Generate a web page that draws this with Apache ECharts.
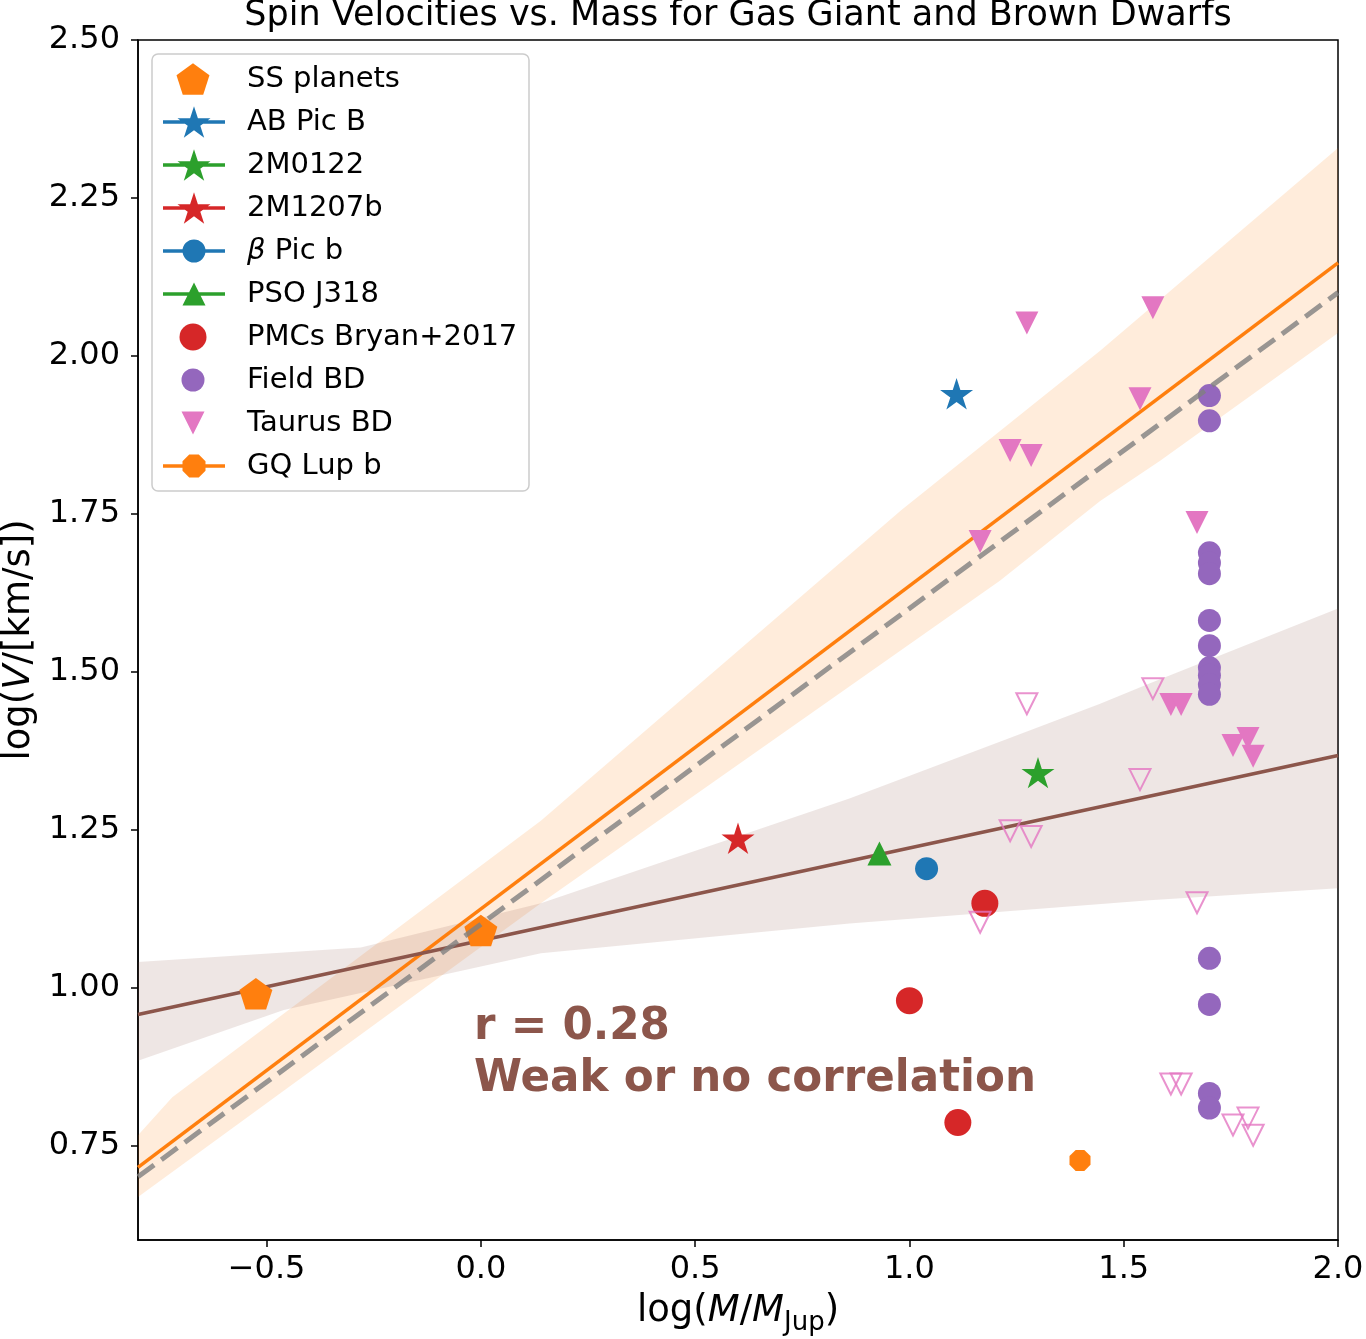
<!DOCTYPE html>
<html>
<head>
<meta charset="utf-8">
<title>Spin Velocities vs. Mass</title>
<script src="https://cdn.jsdelivr.net/npm/echarts@6/dist/echarts.min.js"></script>
<style>
  html, body { margin: 0; padding: 0; background: #fff; }
  #chart { width: 1366px; height: 1339px; }
</style>
</head>
<body>
<div id="chart"></div>
<script>
// tick labels
const xTicks = [-0.5, 0.0, 0.5, 1.0, 1.5, 2.0]
const yTicks = [0.75, 1.0, 1.25, 1.5, 1.75, 2.0, 2.25, 2.5]

// points: [log(M/MJup), log(V/[km/s])]
const ssPlanets = [[-0.525, 0.99], [0.0, 1.09]]
const abPicB = [[1.11, 1.94]]
const m0122 = [[1.30, 1.34]]
const m1207b = [[0.60, 1.236]]
const betaPic = [[1.04, 1.188]]
const psoJ318 = [[0.93, 1.212]]
const pmcs = [[1.176, 1.133], [1.0, 0.979], [1.113, 0.786]]
const gqLup = [[1.398, 0.726]]

const fieldX = 1.70
const fieldV = [1.937, 1.897, 1.688, 1.672, 1.655, 1.581, 1.541, 1.506, 1.494, 1.479, 1.464, 1.046, 0.973, 0.832, 0.809]

const taurusX = [1.274, 1.568, 1.538, 1.235, 1.284, 1.165, 1.671, 1.610, 1.634, 1.755, 1.790, 1.802]
const taurusV = [2.052, 2.076, 1.932, 1.850, 1.842, 1.706, 1.736, 1.448, 1.448, 1.383, 1.394, 1.366]
const taurusLow = [1.449, 1.473, 1.329, 1.248, 1.239, 1.103, 1.134, 0.847, 0.847, 0.782, 0.793, 0.766]

// fit lines (ends of the plotted range)
const fitX = [-0.8, 2.0]
const orangeFit = [0.715, 2.147]
const brownFit = [0.957, 1.367]
const guideFit = [0.70, 2.10]

// confidence bands
const orangeUpX = [-0.8, -0.72, 0.14, 0.98, 1.445, 2.0]
const orangeUpY = [0.766, 0.826, 1.264, 1.755, 2.008, 2.329]
const orangeLoX = [-0.8, 0.14, 1.211, 1.445, 1.585, 2.0]
const orangeLoY = [0.668, 1.133, 1.644, 1.770, 1.834, 2.036]
const brownUpX = [-0.8, -0.28, 0.14, 0.86, 1.211, 1.445, 1.56, 2.0]
const brownUpY = [1.040, 1.063, 1.133, 1.299, 1.389, 1.449, 1.481, 1.600]
const brownLoX = [-0.8, -0.46, 0.14, 0.86, 1.56, 2.0]
const brownLoY = [0.884, 0.964, 1.054, 1.101, 1.138, 1.157]

const font = 'DejaVu Sans'
const C = {
  blue: '#1f77b4', orange: '#ff7f0e', green: '#2ca02c', red: '#d62728',
  purple: '#9467bd', brown: '#8c564b', pink: '#e377c2'
}

// marker outlines in unit coordinates (clockwise on screen)
const starPts = [[0, -1], [0.2245, -0.309], [0.951, -0.309], [0.3633, 0.118], [0.5878, 0.809],
  [0, 0.382], [-0.5878, 0.809], [-0.3633, 0.118], [-0.951, -0.309], [-0.2245, -0.309]]
const pentPts = [[0, -1], [0.951, -0.309], [0.588, 0.809], [-0.588, 0.809], [-0.951, -0.309]]
const octPts = [[0.924, 0.383], [0.383, 0.924], [-0.383, 0.924], [-0.924, 0.383],
  [-0.924, -0.383], [-0.383, -0.924], [0.383, -0.924], [0.924, -0.383]]
const triUpPts = [[0, -1], [1, 1], [-1, 1]]

function poly(pts, cx, cy, sx, sy) {
  return pts.map((p, i) => (i ? 'L' : 'M') + (cx + p[0] * sx).toFixed(2) + ',' + (cy + p[1] * sy).toFixed(2)).join('') + 'Z'
}

const pentagon = 'path://' + poly(pentPts, 0, 0, 1, 1)
const star = 'path://' + poly(starPts, 0, 0, 1, 1)
const octagon = 'path://' + poly(octPts, 0, 0, 1, 1)
const triDown = 'path://M-1,-1L1,-1L0,1Z'

// legend icon: marker of size w x h centred on a 62px line
function lineIcon(kind, w, h) {
  const W = 62
  const cx = W / 2
  let shape
  if (kind === 'circle') {
    const r = w / 2
    shape = `M${cx - r},${h / 2}A${r},${r} 0 1 1 ${cx + r},${h / 2}A${r},${r} 0 1 1 ${cx - r},${h / 2}Z`
  } else if (kind === 'star') {
    shape = poly(starPts, cx, h / 2 + 0.0955 * h / 1.809, w / 1.902, h / 1.809)
  } else if (kind === 'triangle') {
    shape = poly(triUpPts, cx, h / 2, w / 2, h / 2)
  } else {
    shape = poly(octPts, cx, h / 2, w / 1.848, h / 1.848)
  }
  const y0 = h / 2 - 1.75
  const y1 = h / 2 + 1.75
  return 'path://' + shape + `M0,${y0}L${W},${y0}L${W},${y1}L0,${y1}Z`
}

function pairs(xs, ys) {
  return xs.map((x, i) => [x, ys[i]])
}

function band(upX, upY, loX, loY, fill) {
  return {
    type: 'custom',
    z: 1,
    silent: true,
    data: [[upX[0], upY[0]]],
    renderItem: (params, api) => {
      const top = upX.map((x, i) => api.coord([x, upY[i]]))
      const bottom = loX.map((x, i) => api.coord([x, loY[i]])).reverse()
      return { type: 'polygon', shape: { points: top.concat(bottom) }, style: { fill: fill } }
    }
  }
}

function fit(ys, color, extra) {
  return Object.assign({
    type: 'line',
    z: 2,
    silent: true,
    symbol: 'none',
    data: pairs(fitX, ys),
    lineStyle: { color: color, width: 3.5 }
  }, extra || {})
}

function scatter(name, data, symbol, size, color) {
  return {
    name: name,
    type: 'scatter',
    z: 3,
    data: data,
    symbol: symbol,
    symbolSize: size,
    itemStyle: { color: color, opacity: 1 }
  }
}

const series = [
  band(orangeUpX, orangeUpY, orangeLoX, orangeLoY, 'rgba(255,127,14,0.15)'),
  band(brownUpX, brownUpY, brownLoX, brownLoY, 'rgba(140,86,75,0.15)'),
  fit(orangeFit, C.orange),
  fit(brownFit, C.brown),
  scatter('SS planets', ssPlanets, pentagon, [33, 31.4], C.orange),
  scatter('AB Pic B', abPicB, star, [33, 31.4], C.blue),
  scatter('2M0122', m0122, star, [33, 31.4], C.green),
  scatter('2M1207b', m1207b, star, [33, 31.4], C.red),
  scatter('β Pic b', betaPic, 'circle', 23, C.blue),
  scatter('PSO J318', psoJ318, 'triangle', 24, C.green),
  scatter('PMCs Bryan+2017', pmcs, 'circle', 27, C.red),
  scatter('Field BD', fieldV.map(v => [fieldX, v]), 'circle', 23, C.purple),
  scatter('Taurus BD', pairs(taurusX, taurusV), triDown, 23, C.pink),
  {
    name: 'Taurus BD low',
    type: 'scatter',
    z: 3,
    data: pairs(taurusX, taurusLow),
    symbol: triDown,
    symbolSize: 21,
    itemStyle: { color: 'rgba(0,0,0,0)', borderColor: C.pink, borderWidth: 2 }
  },
  scatter('GQ Lup b', gqLup, octagon, 21, C.orange),
  fit(guideFit, 'rgba(127,127,127,0.8)', { z: 5, lineStyle: { color: 'rgba(127,127,127,0.8)', width: 5, type: [20, 9] } })
]

// legend: one row per entry so every marker keeps its own size
const rowY = [77, 120, 163, 206, 249, 292, 335, 378, 421, 464]
const legendRows = [
  ['SS planets', 33, 31.4, null], ['AB Pic B', 33, 31.4, 'star'], ['2M0122', 33, 31.4, 'star'],
  ['2M1207b', 33, 31.4, 'star'], ['β Pic b', 23, 23, 'circle'], ['PSO J318', 23, 23, 'triangle'],
  ['PMCs Bryan+2017', 27, 27, null], ['Field BD', 23, 23, null], ['Taurus BD', 23, 23, null],
  ['GQ Lup b', 23, 23, 'octagon']
]
const legends = legendRows.map(([name, w, h, kind], i) => {
  const iw = kind ? 62 : w
  const left = kind ? 163 : 193 - w / 2
  const leg = {
    data: [name],
    selectedMode: false,
    orient: 'vertical',
    padding: 0,
    left: left,
    top: rowY[i] - Math.max(h, 34) / 2 + 2,
    itemWidth: iw,
    itemHeight: h,
    formatter: name === 'β Pic b' ? '{i|β} Pic b' : name,
    textStyle: {
      fontFamily: font, fontSize: 29, lineHeight: 34, color: '#000',
      padding: [0, 0, 0, 247 - (left + iw + 5)],
      rich: { i: { fontFamily: font, fontSize: 29, fontStyle: 'italic', color: '#000' } }
    }
  }
  if (kind) leg.icon = lineIcon(kind, w, h)
  return leg
})

const option = {
  animation: false,
  backgroundColor: '#fff',
  title: {
    text: 'Spin Velocities vs. Mass for Gas Giant and Brown Dwarfs',
    left: 738,
    textAlign: 'center',
    top: -2,
    padding: 0,
    textStyle: { fontFamily: font, fontSize: 35, fontWeight: 'normal', color: '#000' }
  },
  legend: legends,
  grid: {
    left: 138, right: 28, top: 40, bottom: 99,
    show: true, borderColor: '#000', borderWidth: 1.5,
    outerBoundsMode: 'none'
  },
  xAxis: {
    type: 'value',
    min: -0.8,
    max: 2.0,
    name: '{n|log(}{i|M}{n|/}{i|M}{s|Jup}{n|)}',
    nameLocation: 'middle',
    nameGap: 46,
    nameTextStyle: {
      fontFamily: font, fontSize: 37, color: '#000',
      rich: {
        n: { fontFamily: font, fontSize: 37, color: '#000' },
        i: { fontFamily: font, fontSize: 37, fontStyle: 'italic', color: '#000' },
        s: { fontFamily: font, fontSize: 26, color: '#000', padding: [24, 0, 0, 0] }
      }
    },
    splitLine: { show: false },
    axisLine: { onZero: false, lineStyle: { color: '#000', width: 1.5 } },
    axisTick: { customValues: xTicks, length: 7, lineStyle: { color: '#000', width: 1.5 } },
    axisLabel: {
      customValues: xTicks,
      margin: 14,
      fontFamily: font, fontSize: 32, color: '#000',
      formatter: v => (v < 0 ? '\u2212' : '') + Math.abs(v).toFixed(1)
    }
  },
  yAxis: {
    type: 'value',
    min: 0.6,
    max: 2.5,
    name: '{n|log(}{i|V}{n|/[km/s])}',
    nameLocation: 'middle',
    nameGap: 100,
    nameTextStyle: {
      fontFamily: font, fontSize: 37, color: '#000',
      rich: {
        n: { fontFamily: font, fontSize: 37, color: '#000' },
        i: { fontFamily: font, fontSize: 37, fontStyle: 'italic', color: '#000' }
      }
    },
    splitLine: { show: false },
    axisLine: { onZero: false, lineStyle: { color: '#000', width: 1.5 } },
    axisTick: { customValues: yTicks, length: 7, lineStyle: { color: '#000', width: 1.5 } },
    axisLabel: {
      customValues: yTicks,
      margin: 18,
      padding: [6, 0, 0, 0],
      fontFamily: font, fontSize: 32, color: '#000',
      formatter: v => v.toFixed(2)
    }
  },
  series: series
}

const chart = echarts.init(document.getElementById('chart'))
chart.setOption(option)

// legend frame and the correlation note
const note = chart.convertToPixel({ gridIndex: 0 }, [-0.016, 0.978])
chart.setOption({
  graphic: [
    {
      type: 'rect',
      z: 0,
      shape: { x: 152, y: 54, width: 377, height: 437, r: 6 },
      style: { fill: 'rgba(255,255,255,0.8)', stroke: '#cccccc', lineWidth: 1.5 }
    },
    {
      type: 'text',
      z: 10,
      x: note[0],
      y: note[1],
      style: {
        text: 'r = 0.28\nWeak or no correlation',
        fontFamily: font, fontSize: 43.6, fontWeight: 'bold', lineHeight: 52,
        fill: C.brown, verticalAlign: 'top', align: 'left'
      }
    }
  ]
})
</script>
</body>
</html>
